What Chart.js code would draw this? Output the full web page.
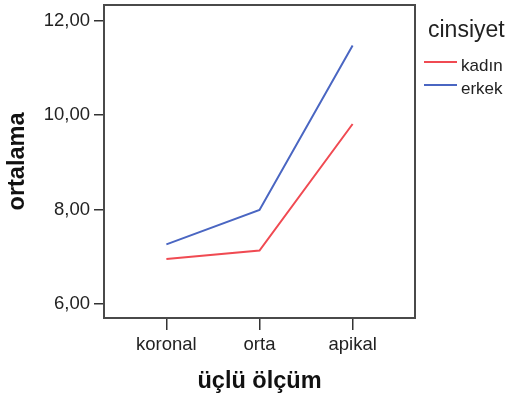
<!DOCTYPE html>
<html lang="tr">
  <head>
    <meta charset="UTF-8" />
    <title>ortalama - üçlü ölçüm</title>
    <script src="https://cdn.jsdelivr.net/npm/chart.js"></script>
    <style>
      html, body { margin: 0; padding: 0; background: #fff; }
      canvas { display: block; }
    </style>
  </head>
  <body>
    <canvas id="grafik" width="508" height="406"></canvas>

    <script>
      // veriler
      const kategoriler = ["koronal", "orta", "apikal"];
      const kadin = [6.95, 7.13, 9.81];
      const erkek = [7.26, 7.99, 11.47];
      const yTikler = [6, 8, 10, 12];
      const seriAdlari = ["kadın", "erkek"];
      const legendBaslik = "cinsiyet";

      const FONT = "'Liberation Sans', Arial, sans-serif";

      // çerçeve
      const cerceve = {
        id: "cerceve",
        afterDraw(chart) {
          const { ctx, chartArea: a } = chart;
          ctx.save();
          ctx.strokeStyle = "#4a4a4a";
          ctx.lineWidth = 2;
          ctx.strokeRect(a.left, a.top, a.right - a.left, a.bottom - a.top);
          ctx.restore();
        },
      };

      // sağdaki açıklama
      const aciklama = {
        id: "aciklama",
        afterDraw(chart) {
          const ctx = chart.ctx;
          ctx.save();
          ctx.fillStyle = "#222";
          ctx.font = "23px " + FONT;
          ctx.textBaseline = "alphabetic";
          ctx.fillText(legendBaslik, 428, 37);
          chart.data.datasets.forEach((ds, i) => {
            const y = 62 + i * 23;
            ctx.strokeStyle = ds.borderColor;
            ctx.lineWidth = 2;
            ctx.beginPath();
            ctx.moveTo(424, y);
            ctx.lineTo(457, y);
            ctx.stroke();
            ctx.fillStyle = "#222";
            ctx.font = "17px " + FONT;
            ctx.textBaseline = "middle";
            ctx.fillText(ds.label, 461, y + 4);
          });
          ctx.restore();
        },
      };

      new Chart(document.getElementById("grafik"), {
        type: "line",
        data: {
          datasets: [
            {
              label: seriAdlari[0],
              data: kadin.map((v, i) => ({ x: i, y: v })),
              borderColor: "#f04a52",
              backgroundColor: "#f04a52",
              borderWidth: 2,
              pointRadius: 0,
              tension: 0,
            },
            {
              label: seriAdlari[1],
              data: erkek.map((v, i) => ({ x: i, y: v })),
              borderColor: "#4a66c2",
              backgroundColor: "#4a66c2",
              borderWidth: 2,
              pointRadius: 0,
              tension: 0,
            },
          ],
        },
        options: {
          responsive: false,
          animation: false,
          layout: { padding: { top: 5, right: 93, left: 0, bottom: 0 } },
          plugins: {
            legend: { display: false },
            tooltip: { enabled: false },
          },
          scales: {
            x: {
              type: "linear",
              min: -0.67,
              max: 2.67,
              afterFit: (s) => {
                s.height = 88;
                s.paddingLeft = 0;
                s.paddingRight = 0;
              },
              afterBuildTicks: (s) => {
                s.ticks = kategoriler.map((_, i) => ({ value: i }));
              },
              grid: {
                drawOnChartArea: false,
                drawTicks: true,
                tickLength: 12,
                color: "#333",
                lineWidth: 1.5,
              },
              border: { display: false },
              ticks: {
                autoSkip: false,
                maxRotation: 0,
                padding: 4,
                color: "#222",
                font: { family: FONT, size: 18.5 },
                callback: (v) => kategoriler[v],
              },
              title: {
                display: true,
                text: "üçlü ölçüm",
                color: "#111",
                font: { family: FONT, size: 23.5, weight: "bold" },
                padding: { top: 0, bottom: 10 },
              },
            },
            y: {
              min: 5.7,
              max: 12.33,
              afterFit: (s) => {
                s.width = 104;
                s.paddingTop = 0;
                s.paddingBottom = 0;
              },
              afterBuildTicks: (s) => {
                s.ticks = yTikler.map((v) => ({ value: v }));
              },
              grid: {
                drawOnChartArea: false,
                drawTicks: true,
                tickLength: 10,
                color: "#333",
                lineWidth: 1.5,
              },
              border: { display: false },
              ticks: {
                padding: 4,
                color: "#222",
                font: { family: FONT, size: 18.5 },
                callback: (v) => v.toFixed(2).replace(".", ","),
              },
              title: {
                display: true,
                text: "ortalama",
                color: "#111",
                font: { family: FONT, size: 23.5, weight: "bold" },
                padding: { top: 3, bottom: 0 },
              },
            },
          },
        },
        plugins: [cerceve, aciklama],
      });
    </script>
  </body>
</html>
